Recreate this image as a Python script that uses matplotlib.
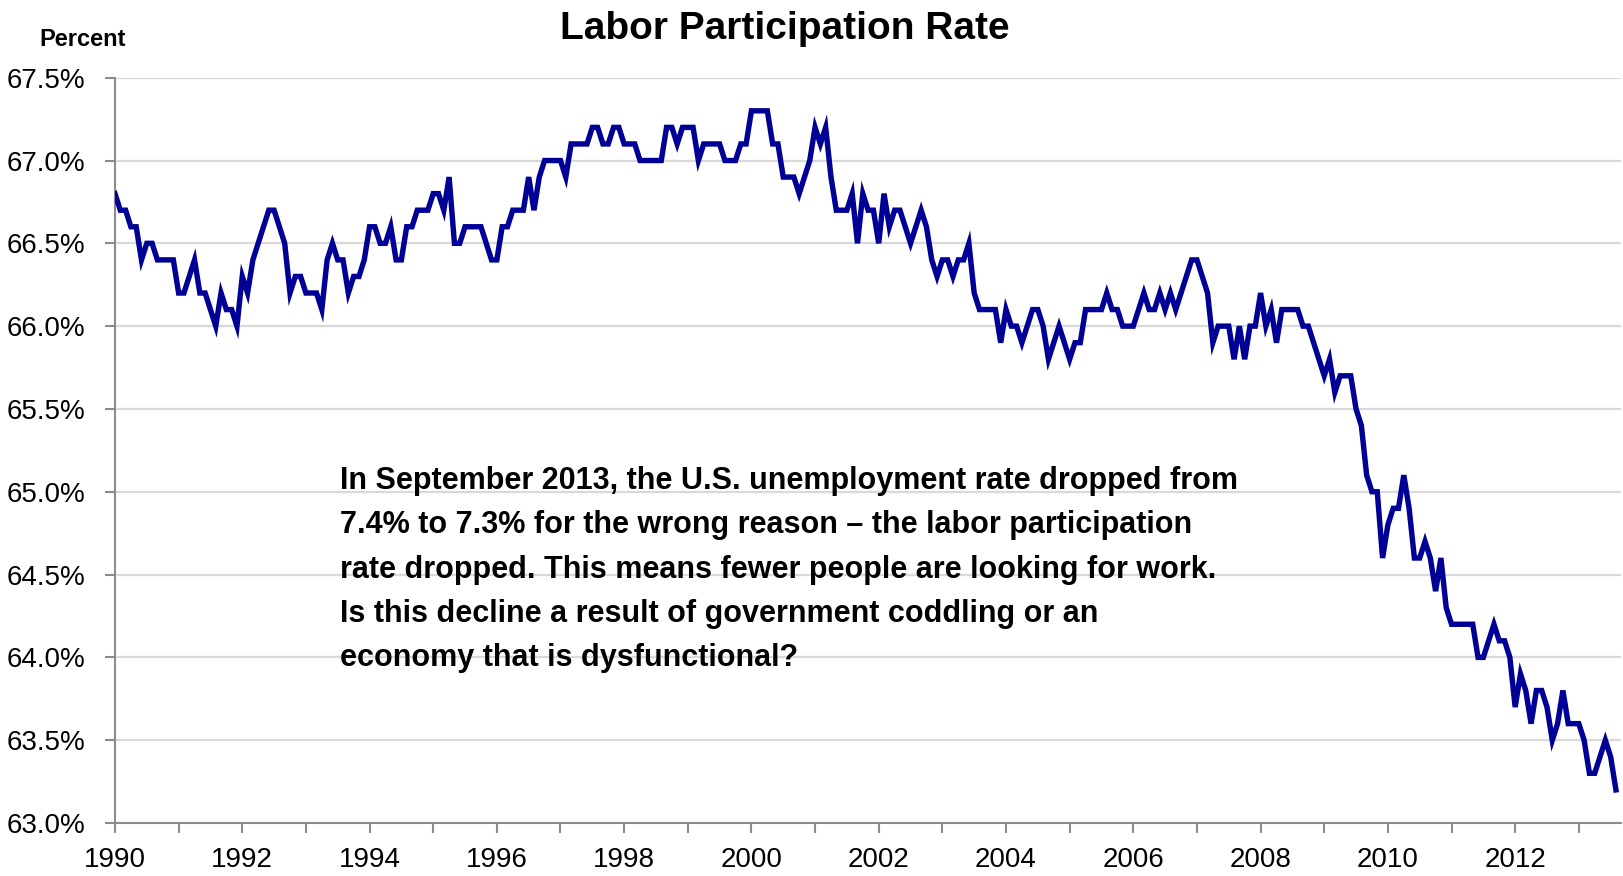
import numpy as np
import matplotlib.pyplot as plt
from matplotlib.ticker import FixedLocator, FuncFormatter

# Civilian labor force participation rate, monthly, Jan 1990 - Aug 2013
rate_1990 = [66.8, 66.7, 66.7, 66.6, 66.6, 66.4, 66.5, 66.5, 66.4, 66.4, 66.4, 66.4]
rate_1991 = [66.2, 66.2, 66.3, 66.4, 66.2, 66.2, 66.1, 66.0, 66.2, 66.1, 66.1, 66.0]
rate_1992 = [66.3, 66.2, 66.4, 66.5, 66.6, 66.7, 66.7, 66.6, 66.5, 66.2, 66.3, 66.3]
rate_1993 = [66.2, 66.2, 66.2, 66.1, 66.4, 66.5, 66.4, 66.4, 66.2, 66.3, 66.3, 66.4]
rate_1994 = [66.6, 66.6, 66.5, 66.5, 66.6, 66.4, 66.4, 66.6, 66.6, 66.7, 66.7, 66.7]
rate_1995 = [66.8, 66.8, 66.7, 66.9, 66.5, 66.5, 66.6, 66.6, 66.6, 66.6, 66.5, 66.4]
rate_1996 = [66.4, 66.6, 66.6, 66.7, 66.7, 66.7, 66.9, 66.7, 66.9, 67.0, 67.0, 67.0]
rate_1997 = [67.0, 66.9, 67.1, 67.1, 67.1, 67.1, 67.2, 67.2, 67.1, 67.1, 67.2, 67.2]
rate_1998 = [67.1, 67.1, 67.1, 67.0, 67.0, 67.0, 67.0, 67.0, 67.2, 67.2, 67.1, 67.2]
rate_1999 = [67.2, 67.2, 67.0, 67.1, 67.1, 67.1, 67.1, 67.0, 67.0, 67.0, 67.1, 67.1]
rate_2000 = [67.3, 67.3, 67.3, 67.3, 67.1, 67.1, 66.9, 66.9, 66.9, 66.8, 66.9, 67.0]
rate_2001 = [67.2, 67.1, 67.2, 66.9, 66.7, 66.7, 66.7, 66.8, 66.5, 66.8, 66.7, 66.7]
rate_2002 = [66.5, 66.8, 66.6, 66.7, 66.7, 66.6, 66.5, 66.6, 66.7, 66.6, 66.4, 66.3]
rate_2003 = [66.4, 66.4, 66.3, 66.4, 66.4, 66.5, 66.2, 66.1, 66.1, 66.1, 66.1, 65.9]
rate_2004 = [66.1, 66.0, 66.0, 65.9, 66.0, 66.1, 66.1, 66.0, 65.8, 65.9, 66.0, 65.9]
rate_2005 = [65.8, 65.9, 65.9, 66.1, 66.1, 66.1, 66.1, 66.2, 66.1, 66.1, 66.0, 66.0]
rate_2006 = [66.0, 66.1, 66.2, 66.1, 66.1, 66.2, 66.1, 66.2, 66.1, 66.2, 66.3, 66.4]
rate_2007 = [66.4, 66.3, 66.2, 65.9, 66.0, 66.0, 66.0, 65.8, 66.0, 65.8, 66.0, 66.0]
rate_2008 = [66.2, 66.0, 66.1, 65.9, 66.1, 66.1, 66.1, 66.1, 66.0, 66.0, 65.9, 65.8]
rate_2009 = [65.7, 65.8, 65.6, 65.7, 65.7, 65.7, 65.5, 65.4, 65.1, 65.0, 65.0, 64.6]
rate_2010 = [64.8, 64.9, 64.9, 65.1, 64.9, 64.6, 64.6, 64.7, 64.6, 64.4, 64.6, 64.3]
rate_2011 = [64.2, 64.2, 64.2, 64.2, 64.2, 64.0, 64.0, 64.1, 64.2, 64.1, 64.1, 64.0]
rate_2012 = [63.7, 63.9, 63.8, 63.6, 63.8, 63.8, 63.7, 63.5, 63.6, 63.8, 63.6, 63.6]
rate_2013 = [63.6, 63.5, 63.3, 63.3, 63.4, 63.5, 63.4, 63.2]

rate = (rate_1990 + rate_1991 + rate_1992 + rate_1993 + rate_1994 + rate_1995
        + rate_1996 + rate_1997 + rate_1998 + rate_1999 + rate_2000 + rate_2001
        + rate_2002 + rate_2003 + rate_2004 + rate_2005 + rate_2006 + rate_2007
        + rate_2008 + rate_2009 + rate_2010 + rate_2011 + rate_2012 + rate_2013)
dates = 1990 + np.arange(len(rate)) / 12.0

y_ticks = [63.0, 63.5, 64.0, 64.5, 65.0, 65.5, 66.0, 66.5, 67.0, 67.5]
year_labels = [1990, 1992, 1994, 1996, 1998, 2000, 2002, 2004, 2006, 2008, 2010, 2012]

note = ("In September 2013, the U.S. unemployment rate dropped from\n"
        "7.4% to 7.3% for the wrong reason \u2013 the labor participation\n"
        "rate dropped. This means fewer people are looking for work.\n"
        "Is this decline a result of government coddling or an\n"
        "economy that is dysfunctional?")

plt.rcParams['font.family'] = ['Liberation Sans', 'DejaVu Sans']

fig = plt.figure(figsize=(16.24, 8.76), dpi=100)
ax = fig.add_axes([0.0708, 0.0605, 0.9275, 0.8508])

ax.plot(dates, rate, color='#000096', lw=3.9, solid_joinstyle='miter', zorder=3)

# axis runs one month past the last observation
ax.set_xlim(1990, dates[-1] + 1 / 12.0)
ax.set_ylim(63.0, 67.5)
ax.yaxis.set_major_locator(FixedLocator(y_ticks))
ax.yaxis.set_major_formatter(FuncFormatter(lambda v, p: f'{v:.1f}%'))
ax.xaxis.set_major_locator(FixedLocator(year_labels))
ax.xaxis.set_minor_locator(FixedLocator([y + 1 for y in year_labels]))
ax.xaxis.set_major_formatter(FuncFormatter(lambda v, p: f'{int(v)}'))

ax.grid(axis='y', color='#d9d9d9', lw=1.6, zorder=0)
ax.set_axisbelow(True)
for s in ['top', 'right']:
    ax.spines[s].set_visible(False)
for s in ['left', 'bottom']:
    ax.spines[s].set_color('#8c8c8c')
    ax.spines[s].set_linewidth(1.5)

ax.tick_params(axis='both', which='both', direction='out', color='#8c8c8c',
               width=1.5, length=7.5, labelsize=20)
ax.tick_params(axis='x', pad=10)
ax.tick_params(axis='y', pad=14)

fig.text(0.483, 0.967, 'Labor Participation Rate', ha='center', va='center',
         fontsize=28, fontweight='bold')
fig.text(0.051, 0.955, 'Percent', ha='center', va='center',
         fontsize=17, fontweight='bold')

ax.text(0.1494, 0.479, note, transform=ax.transAxes, ha='left', va='top',
        fontsize=22, fontweight='bold', linespacing=1.62, zorder=4)

fig.savefig('out.png', dpi=100)
